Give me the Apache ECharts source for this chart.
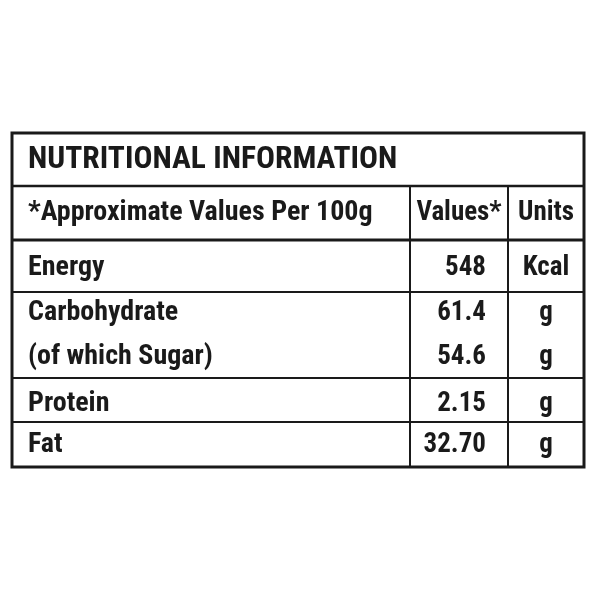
<!DOCTYPE html>
<html><head><meta charset="utf-8">
<script src="https://cdn.jsdelivr.net/npm/echarts@6/dist/echarts.min.js"></script>
<style>html,body{margin:0;background:#fff}#c{width:600px;height:600px}</style>
</head><body><div id="c"></div>
<script>
var title = 'NUTRITIONAL INFORMATION';
var headers = ['*Approximate Values Per 100g', 'Values*', 'Units'];
var nutrients = ['Energy', 'Carbohydrate', '(of which Sugar)', 'Protein', 'Fat'];
var amounts = ['548', '61.4', '54.6', '2.15', '32.70'];
var units = ['Kcal', 'g', 'g', 'g', 'g'];
var rowY = [268, 313, 357, 404, 445];

var font = '"Liberation Sans Narrow", "Arial Narrow", "Roboto Condensed", sans-serif';
var ink = '#1a1a1a';
var L = 12, R = 584, T = 133, B = 467, c1 = 410, c2 = 508;

function line(x1, y1, x2, y2, w) {
    return {type: 'line', shape: {x1: x1, y1: y1, x2: x2, y2: y2}, style: {stroke: ink, lineWidth: w}};
}
function txt(s, x, y, align, size) {
    return {type: 'text', x: x, y: y, style: {text: s, fill: ink, font: 'bold ' + size + 'px ' + font, align: align, verticalAlign: 'middle'}};
}

var g = [];
g.push({type: 'rect', shape: {x: L, y: T, width: R - L, height: B - T}, style: {fill: '#fff', stroke: ink, lineWidth: 3}});
g.push(line(L, 186, R, 186, 2.5));
g.push(line(L, 240, R, 240, 3));
g.push(line(L, 292, R, 292, 2));
g.push(line(L, 378, R, 378, 2));
g.push(line(L, 422, R, 422, 2));
g.push(line(c1, 186, c1, B, 2));
g.push(line(c2, 186, c2, B, 2));
g.push(txt(title, 28, 160, 'left', 31.5));
g.push(txt(headers[0], 28, 213, 'left', 28));
g.push(txt(headers[1], 459, 213, 'center', 27));
g.push(txt(headers[2], 546, 213, 'center', 27));
for (var i = 0; i < nutrients.length; i++) {
    g.push(txt(nutrients[i], 28, rowY[i], 'left', 28));
    g.push(txt(amounts[i], 486, rowY[i], 'right', 27));
    g.push(txt(units[i], 546, rowY[i], 'center', 27));
}

var chart = echarts.init(document.getElementById('c'));
chart.setOption({backgroundColor: '#fff', graphic: g});
</script></body></html>
